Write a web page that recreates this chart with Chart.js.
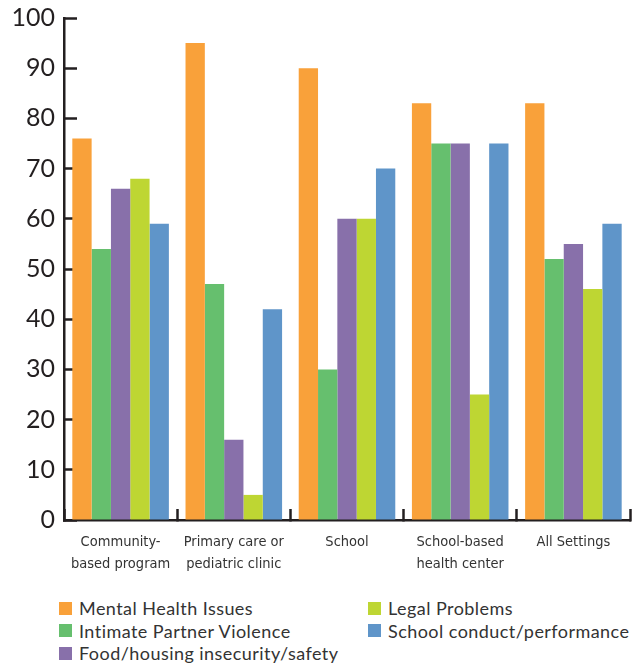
<!DOCTYPE html>
<html>
<head>
<meta charset="utf-8">
<script src="https://cdn.jsdelivr.net/npm/chart.js@4/dist/chart.umd.min.js"></script>
<style>
  html, body { margin: 0; padding: 0; background: #fff; }
  #wrap { position: relative; width: 644px; height: 667px; }
  #chart { position: absolute; left: 0; top: 0; }
  #legend {
    position: absolute; left: 59px; top: 597px;
    display: grid; grid-template-columns: 309px auto; grid-auto-flow: column;
    grid-template-rows: repeat(3, 22.5px);
    font-family: Lato, "Open Sans", sans-serif; font-size: 18px; letter-spacing: 0.45px; color: #333;
  }
  #legend .item { display: flex; align-items: center; white-space: nowrap; }
  #legend .sw { width: 13px; height: 13px; margin-right: 7px; flex: none; }
</style>
</head>
<body>
<div id="wrap">
  <canvas id="chart" width="644" height="590"></canvas>
  <div id="legend"></div>
</div>
<script>
// Categories and series
const categories = [
  ['Community-', 'based program'],
  ['Primary care or', 'pediatric clinic'],
  'School',
  ['School-based', 'health center'],
  'All Settings'
];
const seriesNames = [
  'Mental Health Issues',
  'Intimate Partner Violence',
  'Food/housing insecurity/safety',
  'Legal Problems',
  'School conduct/performance'
];
const mentalHealth = [76, 95, 90, 83, 83];
const partnerViolence = [54, 47, 30, 75, 52];
const foodHousing = [66, 16, 60, 75, 55];
const legalProblems = [68, 5, 60, 25, 46];
const schoolConduct = [59, 42, 70, 75, 59];
const seriesColors = ['#F9A13A', '#66BF6E', '#8870AA', '#BED633', '#5F95C9'];
const yTicks = [0, 10, 20, 30, 40, 50, 60, 70, 80, 90, 100];

const seriesValues = [mentalHealth, partnerViolence, foodHousing, legalProblems, schoolConduct];
const axisColor = '#231F20';

function initializeChart() {
  const ctx = document.getElementById('chart');

  const chart = new Chart(ctx, {
    type: 'bar',
    data: {
      labels: categories,
      datasets: seriesNames.map((name, i) => ({
        label: name,
        data: seriesValues[i],
        backgroundColor: seriesColors[i],
        borderWidth: 0,
        categoryPercentage: 0.853,
        barPercentage: 1
      }))
    },
    options: {
      responsive: false,
      animation: false,
      layout: { padding: { top: 0, right: 14, bottom: 0, left: 0 } },
      plugins: {
        legend: { display: false },
        tooltip: { enabled: false }
      },
      scales: {
        y: {
          min: 0,
          max: 100,
          afterBuildTicks: (scale) => { scale.ticks = yTicks.map(v => ({ value: v })); },
          afterFit: (scale) => {
            scale.width = 64;
            scale.paddingTop = 18;
            scale.paddingBottom = 0;
          },
          border: { color: axisColor, width: 2.5 },
          grid: { drawOnChartArea: false, tickLength: -13, tickWidth: 2.5, tickColor: axisColor },
          ticks: {
            padding: 22,
            color: axisColor,
            font: { family: 'Lato, "Open Sans", sans-serif', size: 25 }
          }
        },
        x: {
          afterFit: (scale) => { scale.height = 70; },
          border: { color: axisColor, width: 2.5 },
          grid: { drawOnChartArea: false, offset: true, tickLength: -11, tickWidth: 2.5, tickColor: axisColor },
          ticks: {
            padding: 22,
            color: '#333',
            maxRotation: 0,
            autoSkip: false,
            font: { family: '"DejaVu Sans Condensed", sans-serif', size: 14.5, lineHeight: 1.55 }
          }
        }
      }
    }
  });

  // HTML legend in two columns, built from the chart's datasets
  const legend = document.getElementById('legend');
  chart.data.datasets.forEach(ds => {
    const item = document.createElement('div');
    item.className = 'item';
    item.innerHTML = `<span class="sw" style="background:${ds.backgroundColor}"></span>${ds.label}`;
    legend.appendChild(item);
  });
}

initializeChart();
</script>
</body>
</html>
